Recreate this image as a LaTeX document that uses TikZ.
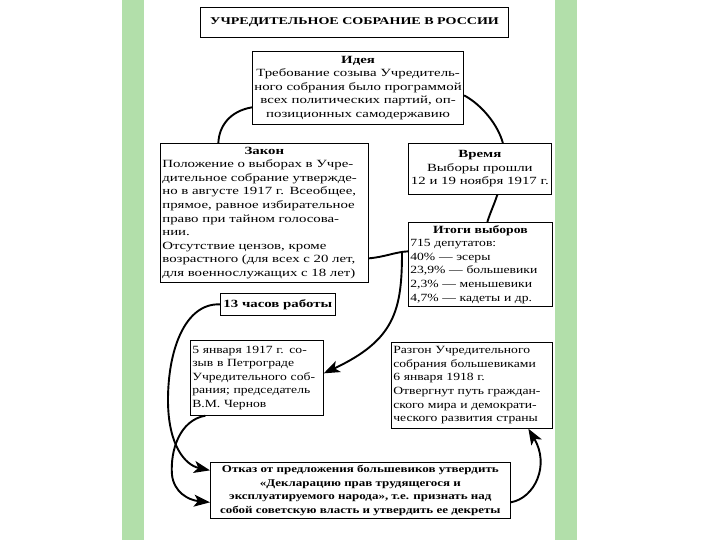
\documentclass[tikz,border=0pt]{standalone}
\usepackage{fontspec}
\setmainfont{Liberation Serif}[FakeStretch=1.35]
\newfontfamily\narrowserif{Liberation Serif}[FakeStretch=1.24]
\newfontfamily\boldnarrow{Liberation Serif}[FakeStretch=1.26]
\usetikzlibrary{arrows.meta}
\definecolor{stripgreen}{RGB}{178,223,170}
\begin{document}
\begin{tikzpicture}[x=1pt,y=-1pt,
  box/.style={draw=black, line width=0.7pt, fill=white, inner sep=2pt, anchor=north west,
    font=\fontsize{11}{13.6}\selectfont},
  conn/.style={line width=1.9pt, black},
  arr/.style={conn, -{Stealth[length=16pt,width=12pt,inset=4pt]}}]
\useasboundingbox (0,0) rectangle (720,540);
\fill[white] (0,0) rectangle (720,540);
\fill[stripgreen] (122,0) rectangle (144,540);
\fill[stripgreen] (555,0) rectangle (577,540);

% title
\node[box, line width=1.1pt, minimum width=308pt, minimum height=30pt, align=center,
  font=\fontsize{10.4}{12}\selectfont\bfseries] (title) at (200,7)
  {УЧРЕДИТЕЛЬНОЕ СОБРАНИЕ В РОССИИ};

\node[box, minimum width=210pt, minimum height=73pt, align=center] (idea) at (252,51)
  {\textbf{Идея}\\Требование созыва Учредитель-\\ного собрания было программой\\всех политических партий, оп-\\позиционных самодержавию};

\node[box, minimum width=208pt, minimum height=139pt, text width=204pt, align=left] (zakon) at (160,143)
  {\makebox[\linewidth][c]{\textbf{Закон}}\\Положение о выборах в Учре-\\дительное собрание утвержде-\\но в августе 1917 г. Всеобщее,\\прямое, равное избирательное\\право при тайном голосова-\\нии.\\Отсутствие цензов, кроме\\возрастного (для всех с 20 лет,\\для военнослужащих с 18 лет)};

\node[box, minimum width=143pt, minimum height=51pt, align=center] (vremya) at (408,143)
  {\textbf{Время}\\Выборы прошли\\12 и 19 ноября 1917 г.};

\node[box, minimum width=144pt, minimum height=84pt, text width=140pt, align=left,
  font=\fontsize{11}{13.6}\narrowserif] (itogi) at (408,222)
  {\makebox[\linewidth][c]{\textbf{Итоги выборов}}\\715 депутатов:\\40\% — эсеры\\23,9\% — большевики\\2,3\% — меньшевики\\4,7\% — кадеты и др.};

\node[box, minimum width=115pt, minimum height=22pt, align=center] (chas) at (220,293)
  {\textbf{13 часов работы}};

\node[box, minimum width=133pt, minimum height=75pt, text width=129pt, align=left,
  font=\fontsize{11}{13.6}\narrowserif] (sozyv) at (190,340)
  {5 января 1917 г. со-\\зыв в Петрограде\\Учредительного соб-\\рания; председатель\\В.М. Чернов};

\node[box, minimum width=161pt, minimum height=86pt, text width=157pt, align=left,
  font=\fontsize{11}{13.6}\narrowserif] (razgon) at (391,342)
  {Разгон Учредительного\\собрания большевиками\\6 января 1918 г.\\Отвергнут путь граждан-\\ского мира и демократи-\\ческого развития страны};

\node[box, minimum width=300pt, minimum height=56pt, align=center,
  font=\fontsize{10.3}{13.4}\boldnarrow\bfseries] (otkaz) at (210,462)
  {Отказ от предложения большевиков утвердить\\«Декларацию прав трудящегося и\\эксплуатируемого народа», т.е. признать над\\собой советскую власть и утвердить ее декреты};

% connectors
\draw[conn] ([yshift=-19.5pt]idea.west) .. controls (230,111) and (219,126) .. ([xshift=-46pt]zakon.north);
\draw[conn] ([yshift=-7.5pt]idea.east) .. controls (482,105) and (498,125) .. ([xshift=23pt]vremya.north);
\draw[conn] ([xshift=17.5pt]vremya.south) .. controls (494,205) and (490,213) .. ([xshift=7pt]itogi.north);
\draw[conn] ([yshift=-45.5pt]zakon.east) .. controls (385,257) and (395,252) .. ([yshift=13pt]itogi.west);
\coordinate (junc) at (402,252);
\draw[arr] (junc) .. controls (402,310) and (395,340) .. ([yshift=4.5pt]sozyv.east);
\draw[arr] (chas.west) .. controls (185,303) and (168,350) .. (168,400) .. controls (168,445) and (185,465) .. ([yshift=20pt]otkaz.west);
\draw[arr] ([xshift=-51.5pt]sozyv.south) .. controls (180,420) and (170,450) .. (172,475) .. controls (174,492) and (188,500) .. ([yshift=-12pt]otkaz.west);
\draw[arr] ([yshift=-12pt]otkaz.east) .. controls (535,498) and (550,465) .. ([xshift=56.5pt]razgon.south);
\end{tikzpicture}
\end{document}
